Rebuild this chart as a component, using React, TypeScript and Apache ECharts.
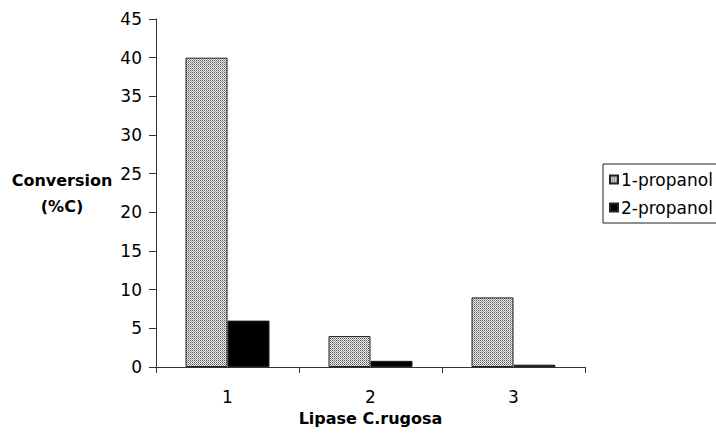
import React, { useEffect, useRef } from "react";
import * as echarts from "echarts";

const categories = ["1", "2", "3"];
const seriesNames = ["1-propanol", "2-propanol"];
const propanol1 = [40, 4, 9];
const propanol2 = [6, 0.8, 0.3];
const yTicks = { min: 0, max: 45, interval: 5 };

function makePattern(): string {
  const c = document.createElement("canvas");
  c.width = 2;
  c.height = 2;
  const ctx = c.getContext("2d")!;
  ctx.fillStyle = "#ececec";
  ctx.fillRect(0, 0, 2, 2);
  ctx.fillStyle = "#5a5a5a";
  ctx.fillRect(0, 0, 1, 1);
  ctx.fillStyle = "#9a9a9a";
  ctx.fillRect(1, 1, 1, 1);
  return c.toDataURL();
}

export default function App() {
  const ref = useRef<HTMLDivElement>(null);
  useEffect(() => {
    if (!ref.current) return;
    const chart = echarts.init(ref.current, null, { renderer: "svg" });
    const pattern = { image: makePattern(), repeat: "repeat" as const };
    const font = "DejaVu Sans";
    chart.setOption({
      animation: false,
      backgroundColor: "#ffffff",
      textStyle: { fontFamily: font },
      grid: { left: 156, right: 131, top: 19, bottom: 71, outerBoundsMode: "none" },
      legend: {
        orient: "vertical",
        left: 603,
        top: 164,
        itemWidth: 8,
        itemHeight: 8,
        itemGap: 11,
        padding: [7, 6, 7, 6],
        borderColor: "#222",
        borderWidth: 1,
        borderRadius: 0,
        textStyle: { fontFamily: font, fontSize: 17, color: "#000", padding: [0, 0, 0, -2] },
        data: seriesNames.map((n) => ({ name: n, icon: "rect" })),
      },
      xAxis: {
        type: "category",
        data: categories,
        name: "Lipase C.rugosa",
        nameLocation: "middle",
        nameGap: 43,
        nameTextStyle: { fontFamily: font, fontSize: 16, fontWeight: "bold", color: "#000" },
        axisLine: { lineStyle: { color: "#333", width: 1 } },
        axisTick: { show: true, alignWithLabel: false, length: 6, lineStyle: { color: "#333" } },
        axisLabel: { fontFamily: font, fontSize: 17, color: "#000", margin: 21 },
      },
      yAxis: {
        type: "value",
        min: yTicks.min,
        max: yTicks.max,
        interval: yTicks.interval,
        splitLine: { show: false },
        axisLine: { show: true, lineStyle: { color: "#333", width: 1 } },
        axisTick: { show: true, length: 7, lineStyle: { color: "#333" } },
        axisLabel: { fontFamily: font, fontSize: 17, color: "#000", margin: 14 },
      },
      graphic: [
        {
          type: "text",
          x: 62,
          y: 193,
          style: {
            text: "Conversion\n(%C)",
            fontFamily: font,
            fontSize: 16,
            fontWeight: "bold",
            fill: "#000",
            align: "center",
            verticalAlign: "middle",
            lineHeight: 26,
          },
        },
      ],
      series: [
        {
          name: seriesNames[0],
          type: "bar",
          data: propanol1,
          barWidth: 42,
          barGap: "0%",
          itemStyle: { color: pattern, borderColor: "#222", borderWidth: 1 },
        },
        {
          name: seriesNames[1],
          type: "bar",
          data: propanol2,
          barWidth: 42,
          barGap: "0%",
          itemStyle: { color: "#000", borderColor: "#222", borderWidth: 1 },
        },
      ],
    });
    return () => chart.dispose();
  }, []);
  return (
    <div
      ref={ref}
      style={{ position: "fixed", left: 0, top: 0, width: 716, height: 438 }}
    />
  );
}
